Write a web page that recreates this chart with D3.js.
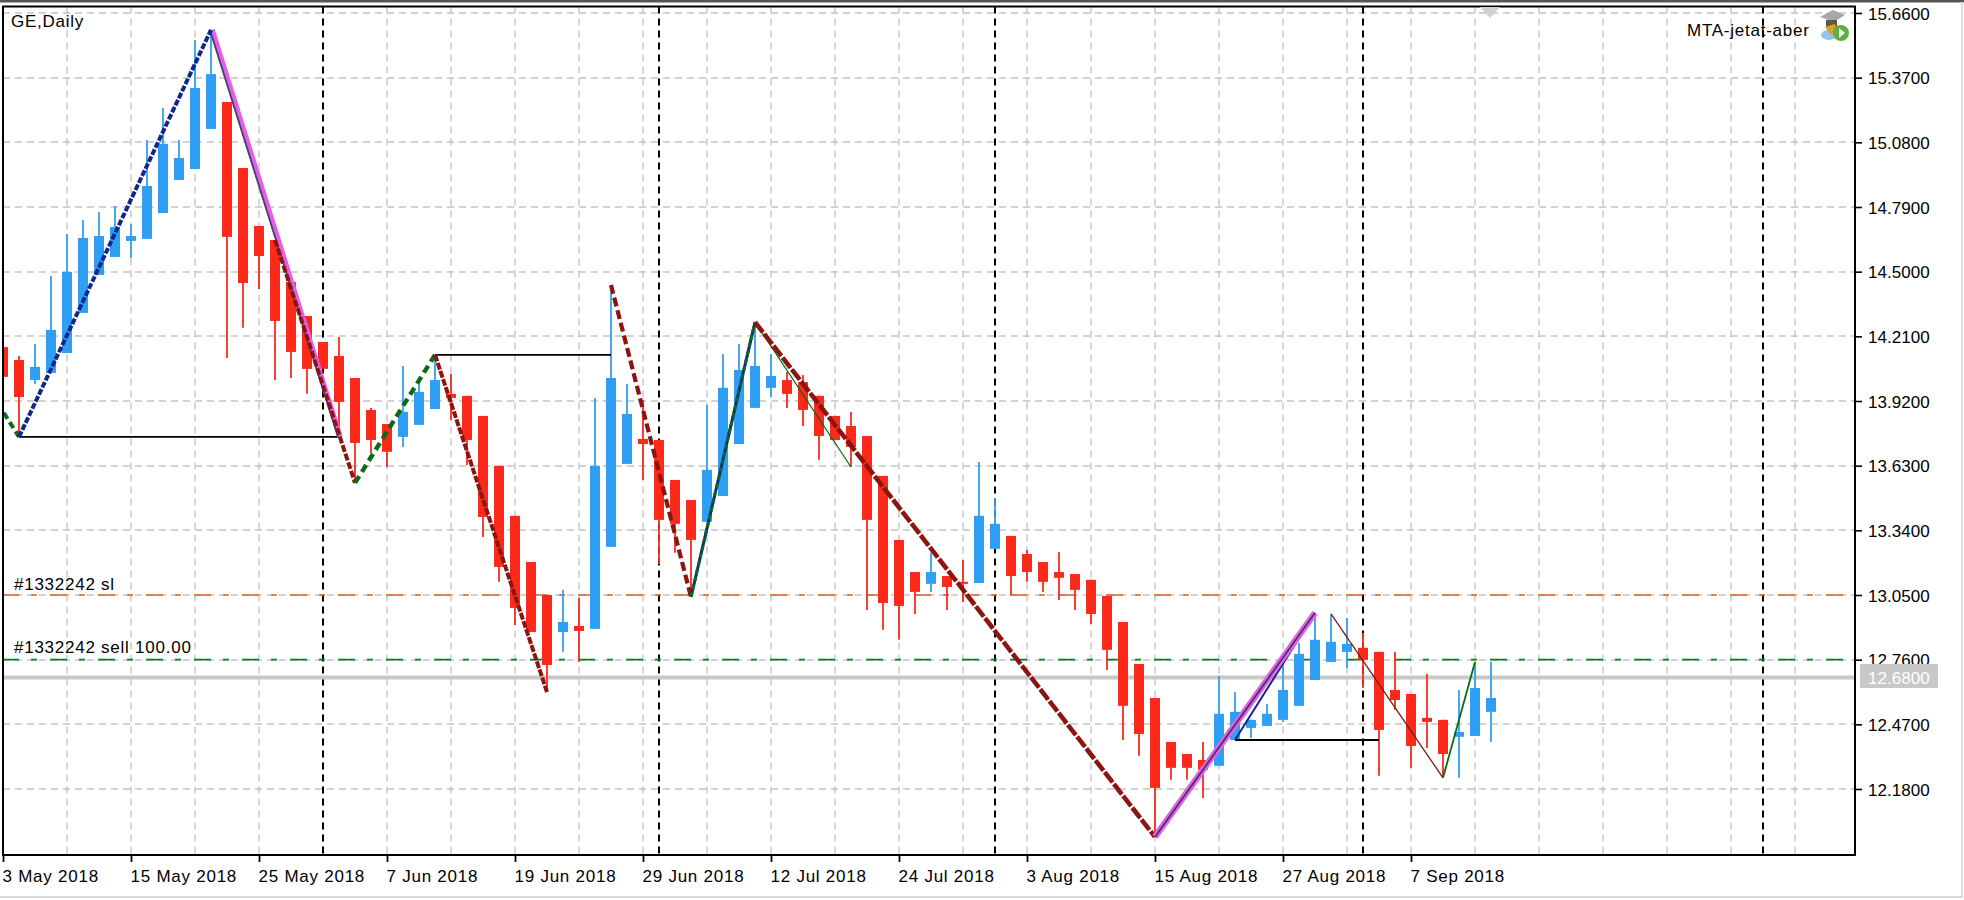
<!DOCTYPE html>
<html><head><meta charset="utf-8">
<script src="https://cdn.jsdelivr.net/npm/d3@7"></script>
<style>
html,body{margin:0;padding:0;background:#fff;overflow:hidden}
text{font-family:"Liberation Sans",Arial,sans-serif;font-size:17px;fill:#000;letter-spacing:.75px}
.ay text{letter-spacing:.05px}
</style></head><body><svg id="c" width="1964" height="900"></svg>
<script>
const opens=[14.162,14.104,14.014,14.046,14.135,14.315,14.485,14.566,14.638,14.647,14.763,14.911,14.960,15.140,15.261,14.965,14.705,14.642,14.454,14.301,14.185,14.122,14.023,13.880,13.817,13.759,13.813,13.884,13.952,13.943,13.853,13.629,13.405,13.198,13.050,12.884,12.911,12.898,13.266,13.638,13.750,13.745,13.566,13.476,13.378,13.494,13.727,13.889,13.979,14.014,14.005,13.943,13.853,13.808,13.763,13.584,13.297,13.153,13.100,13.135,13.109,13.104,13.257,13.315,13.234,13.198,13.153,13.144,13.118,13.046,12.929,12.741,12.588,12.391,12.337,12.310,12.284,12.400,12.454,12.463,12.490,12.553,12.669,12.750,12.795,12.813,12.795,12.624,12.606,12.499,12.490,12.414,12.418,12.526];
const closes=[14.028,13.938,14.073,14.239,14.499,14.651,14.660,14.700,14.660,14.884,15.073,15.010,15.324,15.386,14.656,14.449,14.570,14.279,14.140,14.064,14.064,13.916,13.732,13.745,13.692,13.871,13.961,14.014,13.934,13.745,13.400,13.176,12.992,12.884,12.736,12.929,12.889,13.629,14.023,13.862,13.727,13.387,13.369,13.297,13.611,13.979,14.059,14.077,14.032,13.952,13.880,13.763,13.745,13.714,13.387,13.014,13.001,13.064,13.153,13.086,13.100,13.405,13.369,13.135,13.153,13.109,13.127,13.073,12.965,12.804,12.553,12.427,12.185,12.275,12.275,12.266,12.517,12.526,12.490,12.517,12.624,12.786,12.849,12.840,12.831,12.759,12.445,12.579,12.373,12.481,12.337,12.436,12.633,12.588];
const highs=[14.162,14.122,14.176,14.481,14.669,14.732,14.768,14.795,14.714,15.091,15.234,15.091,15.539,15.579,15.261,14.965,14.705,14.642,14.454,14.301,14.185,14.207,14.023,13.889,13.817,14.077,14.014,14.126,14.041,13.943,13.853,13.629,13.405,13.198,13.050,13.073,13.037,13.934,14.431,13.996,13.925,13.745,13.566,13.476,13.902,14.131,14.176,14.261,14.131,14.050,14.037,13.943,13.853,13.871,13.763,13.584,13.297,13.153,13.239,13.135,13.207,13.647,13.485,13.315,13.252,13.198,13.243,13.144,13.118,13.046,12.929,12.741,12.588,12.391,12.337,12.391,12.687,12.615,12.490,12.562,12.772,12.835,12.969,12.965,12.947,12.880,12.795,12.795,12.606,12.696,12.490,12.624,12.750,12.750];
const lows=[14.028,13.759,13.996,14.046,14.135,14.315,14.485,14.566,14.561,14.647,14.763,14.911,14.960,15.140,14.113,14.248,14.422,14.014,14.023,13.952,14.064,13.759,13.553,13.687,13.624,13.714,13.813,13.884,13.835,13.633,13.310,13.109,12.916,12.884,12.615,12.795,12.750,12.898,13.266,13.638,13.566,13.189,13.239,13.059,13.378,13.494,13.727,13.889,13.938,13.889,13.808,13.656,13.745,13.624,12.983,12.894,12.849,12.965,13.064,12.983,13.019,13.104,13.257,13.050,13.109,13.064,13.028,12.983,12.920,12.714,12.400,12.329,11.965,12.221,12.221,12.140,12.284,12.400,12.409,12.463,12.481,12.553,12.669,12.750,12.723,12.633,12.239,12.535,12.275,12.364,12.230,12.230,12.418,12.391];

const priceTicks=[15.66,15.37,15.08,14.79,14.50,14.21,13.92,13.63,13.34,13.05,12.76,12.47,12.18];
const dateTicks=[0,8,16,24,32,40,48,56,64,72,80,88];
const dateLabels=["3 May 2018","15 May 2018","25 May 2018","7 Jun 2018","19 Jun 2018","29 Jun 2018","12 Jul 2018","24 Jul 2018","3 Aug 2018","15 Aug 2018","27 Aug 2018","7 Sep 2018"];
const gridBars=[4,8,12,16,20,24,28,32,36,40,44,48,52,56,60,64,68,72,76,80,84,88,92,96,100,104,108,112];
const monthBars=[20,41,62,85,110];
const stopLoss=13.05, entry=12.76, bid=12.68;

const legEarlyGreen=[[0.05,13.867],[1,13.759]];
const legBlueUp=[[1,13.759],[13,15.584]];
const legMagentaDown=[[13,15.584],[21,13.759]];
const legRedA=[[17,14.642],[22,13.553]];
const legGreenA=[[22,13.553],[27,14.127]];
const legRedB=[[27,14.127],[34,12.615]];
const legRedC=[[38,14.440],[43,13.041]];
const legBlueC=[[43,13.041],[47,14.274]];
const legRedD=[[47,14.274],[72,11.965]];
const legThinGreenD=[[47,14.274],[53,13.624]];
const legMagentaUp=[[72,11.965],[82,12.970]];
const legThinBlueE=[[77,12.400],[82,12.970]];
const legThinRedF=[[83,12.965],[90,12.230]];
const legThinGreenF=[[90,12.230],[92,12.750]];
const breakLines=[[[1,13.759],[21,13.759]],[[27,14.127],[38,14.127]],[[77,12.400],[86,12.400]]];

const L=3,R=1855,T=6.5,B=855;
const x=d3.scaleLinear().domain([0,115.75]).range([L,R]);
const y=d3.scaleLinear().domain([15.66,12.18]).range([13,789]);
const svg=d3.select("#c");
const line=d3.line().x(d=>x(d[0])).y(d=>y(d[1]));

// window frame
svg.append("rect").attr("width",1964).attr("height",2.5).attr("fill","#555");
svg.append("rect").attr("x",1961).attr("y",2).attr("width",2).attr("height",896).attr("fill","#dcdcdc");
svg.append("rect").attr("x",0).attr("y",896).attr("width",1963).attr("height",2).attr("fill","#dcdcdc");

svg.append("defs").append("clipPath").attr("id","plot").append("rect").attr("x",L).attr("y",T).attr("width",R-L).attr("height",B-T);
const g=svg.append("g").attr("clip-path","url(#plot)");

// grid
g.selectAll(".gy").data(priceTicks).join("line").attr("x1",L).attr("x2",R).attr("y1",d=>Math.round(y(d))).attr("y2",d=>Math.round(y(d)))
 .attr("stroke","#c4c4c4").attr("stroke-width",1.4).attr("stroke-dasharray","7,5");
g.selectAll(".gx").data(gridBars).join("line").attr("x1",d=>x(d)).attr("x2",d=>x(d)).attr("y1",T).attr("y2",B)
 .attr("stroke","#c4c4c4").attr("stroke-width",1.4).attr("stroke-dasharray","7,5");
// month separators
g.selectAll(".ms").data(monthBars).join("line").attr("x1",d=>x(d)).attr("x2",d=>x(d)).attr("y1",T).attr("y2",B)
 .attr("stroke","#000").attr("stroke-width",2).attr("stroke-dasharray","7,5");

// order levels
const lev=(v,c)=>g.append("line").attr("x1",L).attr("x2",R).attr("y1",y(v)).attr("y2",y(v)).attr("stroke",c).attr("stroke-width",1.7).attr("stroke-dasharray","17,12,6,13").attr("stroke-dashoffset",1);
lev(stopLoss,"#d8642c"); lev(entry,"#0f7a1e");
g.append("line").attr("x1",L).attr("x2",R).attr("y1",y(bid)).attr("y2",y(bid)).attr("stroke","#c8c8c8").attr("stroke-width",4);

// candles
const idx=d3.range(opens.length);
const BLUE="#2f9ff5",RED="#fb2a1b";
const col=i=>closes[i]>=opens[i]?BLUE:RED;
g.selectAll(".w").data(idx).join("line").attr("x1",i=>x(i)).attr("x2",i=>x(i)).attr("y1",i=>y(highs[i])).attr("y2",i=>y(lows[i])).attr("stroke",col).attr("stroke-width",1.8);
g.selectAll(".b").data(idx).join("rect").attr("x",i=>x(i)-5).attr("width",10).attr("y",i=>y(Math.max(opens[i],closes[i]))).attr("height",i=>Math.max(1.5,Math.abs(y(opens[i])-y(closes[i])))).attr("fill",col);

// break lines
g.selectAll(".bl").data(breakLines).join("path").attr("d",line).attr("fill","none").attr("stroke","#000").attr("stroke-width",1.9);

// zigzag legs
const leg=(d,c,w,da)=>{const p=g.append("path").attr("d",line(d)).attr("fill","none").attr("stroke",c).attr("stroke-width",w);if(da)p.attr("stroke-dasharray",da);return p;};
const DR="#8c1512",DG="#0b6b14",DB="#10288c",MG="#e35fe6";
leg(legMagentaDown,MG,5.6).attr("transform","translate(1,0)");
leg(legMagentaDown,"#46406c",1.7).attr("transform","translate(-1,0)");
leg(legEarlyGreen,DG,4,"7,4");
leg(legBlueUp,DB,4,"6,1.8");
leg(legRedA,DR,4,"7,2");
leg(legGreenA,DG,4.4,"8,5");
leg(legRedB,DR,4,"7,1.5");
leg(legRedC,DR,4.2,"9,4");
leg(legBlueC,DB,3);
leg(legBlueC,DG,3,"5,3");
leg(legThinGreenD,DG,1.3);
leg(legRedD,DR,4.6,"13,2");
leg(legThinBlueE,DB,2);
leg(legMagentaUp,MG,6.4);
leg(legMagentaUp,"#3a3668",1.7);
leg(legThinRedF,"#7c1a14",1.3);
leg(legThinGreenF,DG,1.8);

// plot border
svg.append("rect").attr("x",L).attr("y",T).attr("width",R-L).attr("height",B-T).attr("fill","none").attr("stroke","#000").attr("stroke-width",2);

// axes
const ay=svg.append("g").attr("class","ay").attr("transform",`translate(${R},0)`).call(d3.axisRight(y).tickValues(priceTicks).tickFormat(d3.format(".4f")).tickSize(7).tickPadding(6));
ay.select(".domain").remove();
ay.selectAll("line").attr("stroke","#000").attr("stroke-width",1.6);
ay.selectAll("text").attr("dy","0.36em");
const ax=svg.append("g").attr("transform",`translate(0,${B})`).call(d3.axisBottom(x).tickValues(dateTicks).tickFormat((d,i)=>dateLabels[i]).tickSize(7).tickPadding(8));
ax.select(".domain").remove();
ax.selectAll("line").attr("stroke","#000").attr("stroke-width",1.8);
ax.selectAll("text").attr("text-anchor","start").attr("dx",-1);

// bid tag
svg.append("rect").attr("x",1860).attr("y",664).attr("width",78).attr("height",24).attr("fill","#c8c8c8");
svg.append("text").attr("class","ay").attr("x",1868).attr("y",y(bid)+6).style("fill","#fff").style("letter-spacing",".05px").text(d3.format(".4f")(bid));

// labels
const t=(a,b,s)=>svg.append("text").attr("x",a).attr("y",b).text(s);
t(11,27,"GE,Daily");
t(14,590,"#1332242 sl");
t(14,653,"#1332242 sell 100.00");
t(1687,36,"MTA-jetat-aber");

// small autotrading marker
svg.append("path").attr("d",d3.line()([[1480,7],[1500,7],[1490,18]])).attr("fill","#d0d0d0");

// expert icon
const ic=svg.append("g");
ic.append("ellipse").attr("cx",1829).attr("cy",35).attr("rx",8).attr("ry",5).attr("fill","#8fc7ee");
ic.append("path").attr("d","M1820 17L1833 10L1845 15L1834 22Z").attr("fill","#a8a8a8");
ic.append("rect").attr("x",1826).attr("y",20).attr("width",11).attr("height",8).attr("fill","#5f5a48");
ic.append("path").attr("d","M1825 27L1835 24L1838 36L1830 34Z").attr("fill","#dba22e");
ic.append("circle").attr("cx",1841).attr("cy",33).attr("r",8).attr("fill","#5fae45");
ic.append("path").attr("d","M1839 28L1845 33L1839 38Z").attr("fill","#f2f2f2");
</script></body></html>
